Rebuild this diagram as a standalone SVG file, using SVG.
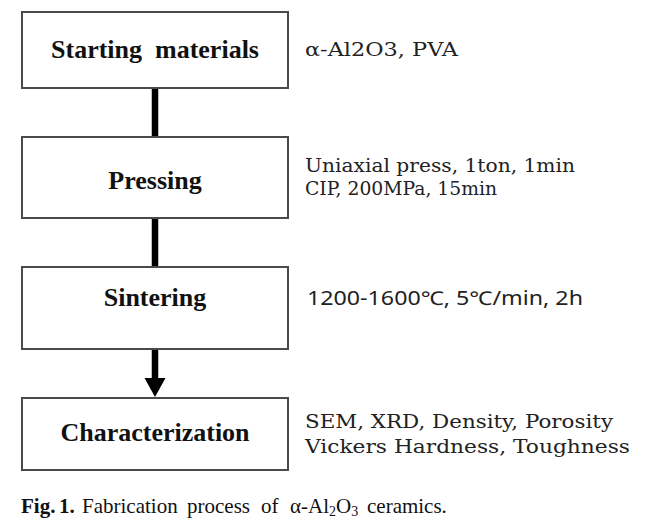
<svg xmlns="http://www.w3.org/2000/svg" width="649" height="532" viewBox="0 0 649 532">
<style>
.box{fill:#fff;stroke:#4a4a4a;stroke-width:2}
.title{font-family:"Liberation Serif","Times New Roman",serif;font-weight:bold;font-size:26px;fill:#111;text-anchor:middle}
.note{font-family:"DejaVu Serif","Liberation Serif",serif;font-size:18px;fill:#222}
.sans{font-family:"Noto Sans","Liberation Sans",sans-serif;font-size:19px;fill:#222}
.cap{font-family:"Liberation Serif","Times New Roman",serif;font-size:21px;fill:#111}
.conn{stroke:#000;stroke-width:6.5;fill:none}
</style>
<g id="connectors">
<line class="conn" x1="155" y1="88" x2="155" y2="137"/>
<line class="conn" x1="155" y1="218" x2="155" y2="267"/>
<line class="conn" x1="155" y1="349" x2="155" y2="380"/>
<path d="M144.5,378 L165.5,378 L155,397 Z" fill="#000"/>
</g>
<g id="n1">
<rect class="box" x="22" y="12" width="266" height="76"/>
<text class="title" x="155" y="58" xml:space="preserve">Starting  materials</text>
<text class="note" x="305" y="56" textLength="153" lengthAdjust="spacingAndGlyphs">α-Al2O3, PVA</text>
</g>
<g id="n2">
<rect class="box" x="22" y="137" width="266" height="81"/>
<text class="title" x="155" y="189">Pressing</text>
<text class="note" x="305" y="172" textLength="270" lengthAdjust="spacingAndGlyphs">Uniaxial press, 1ton, 1min</text>
<text class="note" x="305" y="195" textLength="192" lengthAdjust="spacingAndGlyphs">CIP, 200MPa, 15min</text>
</g>
<g id="n3">
<rect class="box" x="22" y="267" width="266" height="82"/>
<text class="title" x="155" y="306">Sintering</text>
<text class="sans" x="307" y="305" textLength="276" lengthAdjust="spacingAndGlyphs">1200-1600℃, 5℃/min, 2h</text>
</g>
<g id="n4">
<rect class="box" x="22" y="398" width="266" height="72"/>
<text class="title" x="155" y="441">Characterization</text>
<text class="note" x="305" y="428" textLength="308" lengthAdjust="spacingAndGlyphs">SEM, XRD, Density, Porosity</text>
<text class="note" x="305" y="453" textLength="325" lengthAdjust="spacingAndGlyphs">Vickers Hardness, Toughness</text>
</g>
<g id="caption">
<text class="cap" x="21" y="513" font-weight="bold">Fig.</text>
<text class="cap" x="59" y="513" font-weight="bold">1.</text>
<text class="cap" x="82" y="513">Fabrication</text>
<text class="cap" x="187" y="513">process</text>
<text class="cap" x="261" y="513">of</text>
<text class="cap" x="290" y="513">α-Al<tspan font-size="14" dy="3">2</tspan><tspan dy="-3">O</tspan><tspan font-size="14" dy="3">3</tspan></text>
<text class="cap" x="367" y="513">ceramics.</text>
</g>
</svg>
